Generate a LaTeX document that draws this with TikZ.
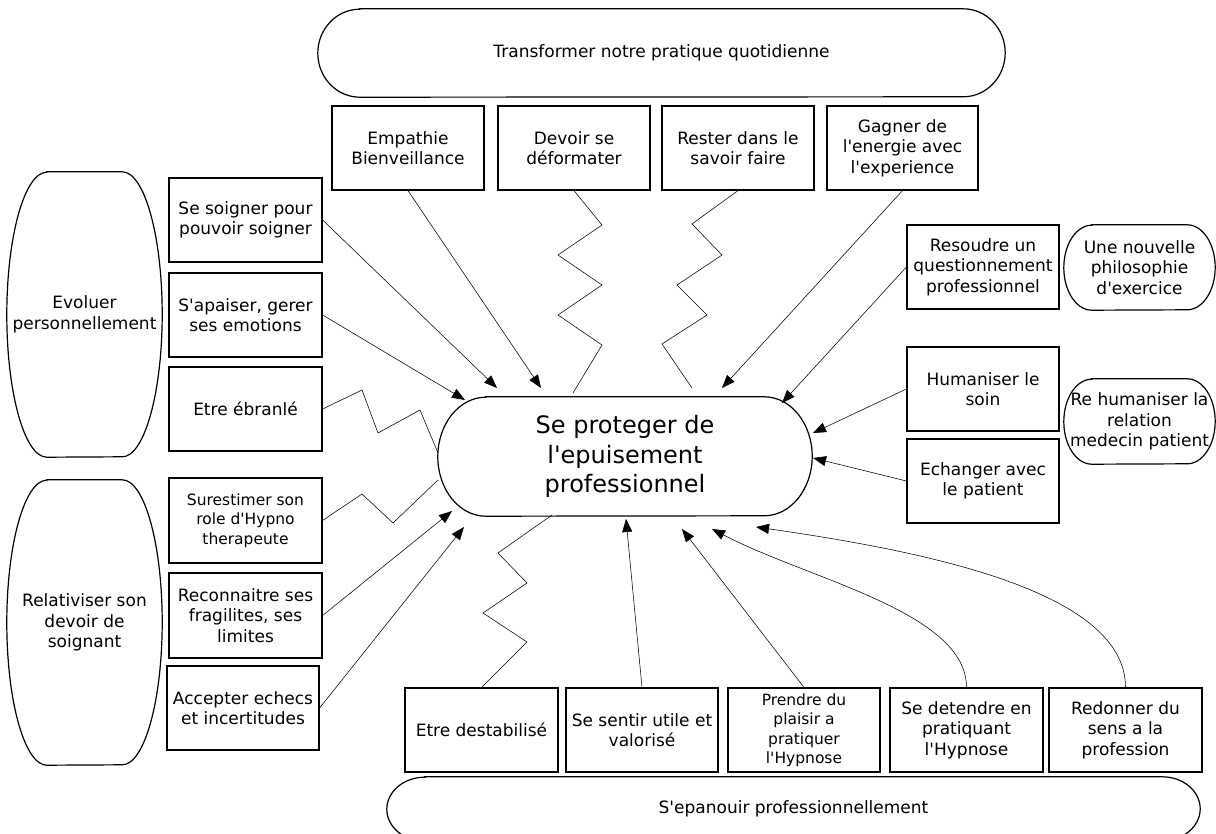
\documentclass[tikz,border=0pt]{standalone}
\usepackage{fontspec}
\setmainfont{DejaVu Sans}[Ligatures=TeXOff]
\usetikzlibrary{arrows.meta,calc}
\tikzset{
  txt/.style={inner sep=0pt, align=center, font=\fontsize{17}{20.5}\selectfont},
  box/.style={txt, draw, line width=1.2pt, minimum width=152pt, minimum height=84pt},
  small/.style={font=\fontsize{15.5}{19.5}\selectfont},
  outline/.style={line width=1.2pt},
  conn/.style={draw=black, line width=0.55pt},
  arr/.style={conn, -{Triangle[length=13pt,width=10pt]}}
}
\newcommand\pillpath[3]{%
  \draw[outline] ($(#1.north west)+(#2,0)$) -- ($(#1.north east)+(-#2,0)$)
    arc[start angle=-90,end angle=90,x radius=#2,y radius=#3]
    -- ($(#1.south west)+(#2,0)$)
    arc[start angle=90,end angle=270,x radius=#2,y radius=#3] -- cycle;}
\begin{document}
\begin{tikzpicture}[x=1pt,y=-1pt]
\useasboundingbox (0,0) rectangle (1216,834);
\clip (0,0) rectangle (1216,834);

% big pills
\node[txt, minimum width=687pt, minimum height=88pt] (top) at (661.5,53) {Transformer notre pratique quotidienne};
\pillpath{top}{42}{44}
\node[txt, minimum width=813pt, minimum height=64pt] (bot) at (793.5,809) {S'epanouir professionnellement};
\pillpath{bot}{38}{32}

% center
\node[txt, font=\fontsize{24}{29.5}\selectfont, minimum width=374pt, minimum height=119pt] (ctr) at (625,456.5) {Se proteger de\\l'epuisement\\professionnel};
\pillpath{ctr}{48}{59.5}

% left ovals
\node[txt, minimum width=155pt, minimum height=285pt] (evo) at (84.5,314.5) {Evoluer\\personnellement};
\pillpath{evo}{40}{142.5}
\node[txt, minimum width=155pt, minimum height=285pt] (rel) at (84.5,622.5) {Relativiser son\\devoir de\\soignant};
\pillpath{rel}{40}{142.5}

% right pills
\node[txt, minimum width=151pt, minimum height=85pt] (phi) at (1139.5,267.5) {Une nouvelle\\philosophie\\d'exercice};
\pillpath{phi}{28}{42.5}
\node[txt, minimum width=151pt, minimum height=85pt] (rhu) at (1139.5,421.5) {Re humaniser la\\relation\\medecin patient};
\pillpath{rhu}{28}{42.5}

% top boxes
\node[box] (emp) at (408,148) {Empathie\\Bienveillance};
\node[box] (dev) at (574,148) {Devoir se\\déformater};
\node[box] (res) at (738,148) {Rester dans le\\savoir faire};
\node[box, minimum width=151pt] (gag) at (902.5,148) {Gagner de\\l'energie avec\\l'experience};

% left boxes
\node[box, minimum width=153pt] (soi) at (245.5,220) {Se soigner pour\\pouvoir soigner};
\node[box, minimum width=153pt] (apa) at (245.5,315) {S'apaiser, gerer\\ses emotions};
\node[box, minimum width=153pt] (ebr) at (245.5,409) {Etre ébranlé};
\node[box, small, minimum width=153pt, minimum height=85pt] (sur) at (245.5,520.5) {Surestimer son\\role d'Hypno\\therapeute};
\node[box, minimum width=153pt, minimum height=85pt] (rec) at (245.5,615.5) {Reconnaitre ses\\fragilites, ses\\limites};
\node[box] (acc) at (243,708) {Accepter echecs\\et incertitudes};

% right boxes
\node[box] (rso) at (983,267) {Resoudre un\\questionnement\\professionnel};
\node[box] (hum) at (983,389) {Humaniser le\\soin};
\node[box] (ech) at (983,481) {Echanger avec\\le patient};

% bottom boxes
\node[box, minimum width=153pt] (des) at (481.5,730) {Etre destabilisé};
\node[box] (sen) at (642,730) {Se sentir utile et\\valorisé};
\node[box, small] (pre) at (804,730) {Prendre du\\plaisir a\\pratiquer\\l'Hypnose};
\node[box, minimum width=153pt] (det) at (966.5,730) {Se detendre en\\pratiquant\\l'Hypnose};
\node[box, minimum width=153pt] (red) at (1125.5,730) {Redonner du\\sens a la\\profession};

% arrow targets
\coordinate (tEmp) at (541,388);
\coordinate (tSoi) at (497,388);
\coordinate (tApa) at (465,400);
\coordinate (tGag) at (722,388);
\coordinate (tRso) at (782,403);
\coordinate (tHum) at (813,433);
\coordinate (tEch) at (813,458);
\coordinate (tRec) at (452,511);
\coordinate (tAcc) at (464,527);
\coordinate (tSen) at (626,519);
\coordinate (tPre) at (682,529);
\coordinate (tDet) at (712,529);
\coordinate (tRed) at (756,527);
% zigzag ends
\coordinate (zDev) at (573,393);
\coordinate (zRes) at (692,388);
\coordinate (zEbr) at (438,453);
\coordinate (zSur) at (438,480);
\coordinate (zDes) at (552,515);

% straight arrows
\draw[arr] (emp.south) -- (tEmp);
\draw[arr] (soi.east) -- (tSoi);
\draw[arr] (apa.east) -- (tApa);
\draw[arr] (gag.south) -- (tGag);
\draw[arr] (rso.west) -- (tRso);
\draw[arr] (hum.west) -- (tHum);
\draw[arr] (ech.west) -- (tEch);
\draw[arr] (rec.east) -- (tRec);
\draw[arr] (acc.east) -- (tAcc);
\draw[arr] (sen.north) -- (tSen);
\draw[arr] (pre.north) -- (tPre);
% curved arrows
\draw[arr] (det.north) .. controls (966.5,612) and (810,580) .. (tDet);
\draw[arr] (red.north) .. controls (1125.5,592) and (930,552) .. (tRed);

% zigzags
\draw[conn] (dev.south) -- (602,225) -- (558,255) -- (602,285) -- (558,315) -- (602,345) -- (zDev);
\draw[conn] (res.south) -- (692,224) -- (722,255) -- (677,285) -- (707,315) -- (662,344) -- (zRes);
\draw[conn] (ebr.east) -- (362,390) -- (378,433) -- (420,410) -- (zEbr);
\draw[conn] (sur.east) -- (362,494) -- (393,523) -- (zSur);
\draw[conn] (des.north) -- (527,642) -- (483,613) -- (527,583) -- (498,553) -- (zDes);
\end{tikzpicture}
\end{document}
